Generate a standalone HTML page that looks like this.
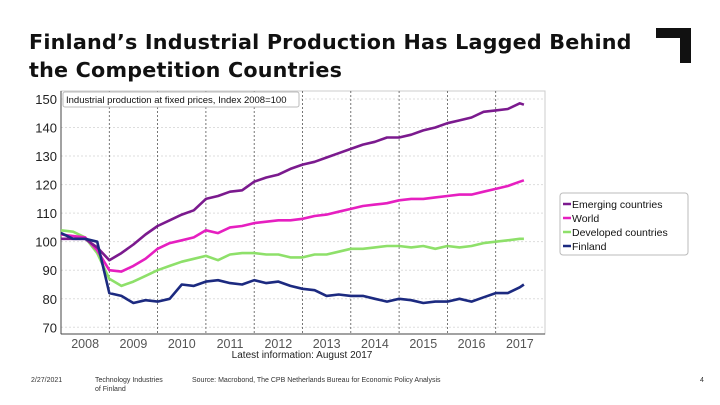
<!DOCTYPE html>
<html><head><meta charset="utf-8">
<style>
body{margin:0;width:720px;height:405px;background:#fff;overflow:hidden;font-family:"Liberation Sans","DejaVu Sans",sans-serif;position:relative}
#title{position:absolute;left:29px;top:28px;font-weight:bold;line-height:28px;color:#111;letter-spacing:0.2px;font-family:"DejaVu Sans","Liberation Sans",sans-serif;font-size:20.7px}
.foot{position:absolute;top:376px;font-size:7px;color:#333;line-height:9px}
</style></head><body>
<div id="title">Finland’s Industrial Production Has Lagged Behind<br>the Competition Countries</div>
<svg style="position:absolute;left:656px;top:28px" width="36" height="36"><path d="M0 0H35V35H24V10H0Z" fill="#111"/></svg>
<svg id="chart" style="position:absolute;left:0;top:0" width="720" height="405"></svg>
<div class="foot" style="left:31px">2/27/2021</div>
<div class="foot" style="left:95px">Technology Industries<br>of Finland</div>
<div class="foot" style="left:192px">Source: Macrobond, The CPB Netherlands Bureau for Economic Policy Analysis</div>
<div class="foot" style="left:700px">4</div>
<script>
const months=[0,3,6,9,12,15,18,21,24,27,30,33,36,39,42,45,48,51,54,57,60,63,66,69,72,75,78,81,84,87,90,93,96,99,102,105,108,111,114,115];
const emerging=[101,101,101,98,93.5,96,99,102.5,105.5,107.5,109.5,111,115,116,117.5,118,121,122.5,123.5,125.5,127,128,129.5,131,132.5,134,135,136.5,136.5,137.5,139,140,141.5,142.5,143.5,145.5,146,146.5,148.5,148];
const world=[102.5,102,101.5,97,90,89.5,91.5,94,97.5,99.5,100.5,101.5,104,103,105,105.5,106.5,107,107.5,107.5,108,109,109.5,110.5,111.5,112.5,113,113.5,114.5,115,115,115.5,116,116.5,116.5,117.5,118.5,119.5,121,121.5];
const developed=[104,103.5,101.5,96,87,84.5,86,88,90,91.5,93,94,95,93.5,95.5,96,96,95.5,95.5,94.5,94.5,95.5,95.5,96.5,97.5,97.5,98,98.5,98.5,98,98.5,97.5,98.5,98,98.5,99.5,100,100.5,101,101];
const finland=[103,101,101,100,82,81,78.5,79.5,79,80,85,84.5,86,86.5,85.5,85,86.5,85.5,86,84.5,83.5,83,81,81.5,81,81,80,79,80,79.5,78.5,79,79,80,79,80.5,82,82,84,85];
const yTicks=[70,80,90,100,110,120,130,140,150];
const years=[2008,2009,2010,2011,2012,2013,2014,2015,2016,2017];
const seriesNames=["Emerging countries","World","Developed countries","Finland"];
const colors=["#7b1a8e","#e61fc0","#8ee06a","#1c2a80"];
const NS="http://www.w3.org/2000/svg";
const svg=document.getElementById('chart');
const X0=61,YR=48.3,L=61,R=545,T=91,B=334;
const x=m=>X0+m*YR/12;
const y=v=>327.3-(v-70)*2.854;
function mk(t,a,p){const e=document.createElementNS(NS,t);for(const k in a)e.setAttribute(k,a[k]);(p||svg).appendChild(e);return e;}
let fr=mk('rect',{x:L,y:T,width:R-L,height:B-T,fill:'none',stroke:'#ccc','stroke-width':1});


yTicks.forEach(v=>{
 const g=mk('line',{x1:L,x2:R,y1:y(v),y2:y(v),stroke:'#ddd','stroke-dasharray':'2,2'});
 
 
 const t=mk('text',{x:57,y:y(v)+5,'text-anchor':'end','font-size':13,fill:'#222'});t.textContent=v;
 
 
});
years.forEach((yr,i)=>{
 if(i>0){const d=mk('line',{x1:x(i*12),x2:x(i*12),y1:T,y2:B,stroke:'#555','stroke-dasharray':'2,2','stroke-width':0.8});
 
 }
 const t=mk('text',{x:x(i*12+6),y:348,'text-anchor':'middle','font-size':12.5,fill:'#555'});t.textContent=yr;
 
 
});
mk('line',{x1:L,x2:R,y1:B,y2:B,stroke:'#444'});
mk('line',{x1:L,x2:L,y1:T,y2:B,stroke:'#444'});
const note=mk('text',{x:302,y:358,'text-anchor':'middle','font-size':10,fill:'#222'});note.textContent='Latest information: August 2017';


const tb=mk('rect',{x:63,y:92,width:236,height:15,rx:2,fill:'#fff',stroke:'#bbb'});


const tt=mk('text',{x:66,y:103,'font-size':9.5,fill:'#111'});tt.textContent='Industrial production at fixed prices, Index 2008=100';


const all=[emerging,world,developed,finland];
[2,1,0,3].forEach(si=>{
 const d=all[si].map((v,i)=>(i?'L':'M')+x(months[i]).toFixed(1)+' '+y(v).toFixed(1)).join('');
 const p=mk('path',{d:d,fill:'none',stroke:colors[si],'stroke-width':2.6,'stroke-linejoin':'round'});
 
 
});
const lb=mk('rect',{x:560,y:193,width:128,height:62,rx:3,fill:'#fff',stroke:'#bbb'});


seriesNames.forEach((n,i)=>{
 const yy=205+i*14;
 const ln=mk('line',{x1:563,x2:571,y1:yy-1,y2:yy-1,stroke:colors[i],'stroke-width':2.5});
 
 
 const t=mk('text',{x:572,y:yy+3,'font-size':10.5,fill:'#111'});t.textContent=n;
 
 
});
</script>
</body></html>
